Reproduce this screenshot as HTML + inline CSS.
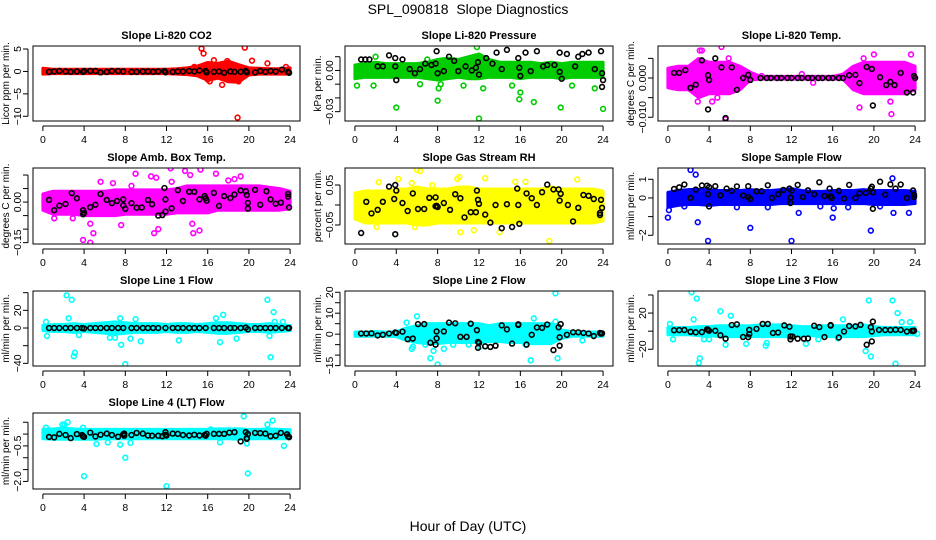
<!DOCTYPE html>
<html><head><meta charset="utf-8"><style>
body{margin:0;background:#fff;}
svg{display:block;font-family:"Liberation Sans",sans-serif;}
</style></head><body>
<svg id="chart" width="936" height="540" viewBox="0 0 936 540">
<text x="468" y="14" text-anchor="middle" font-size="14">SPL_090818&#160; Slope Diagnostics</text>
<text x="468" y="531" text-anchor="middle" font-size="14">Hour of Day (UTC)</text>
</svg>
<script>
const bandHours=[0,1,2,3,4,5,6,7,8,9,10,11,12,13,14,15,16,17,18,19,20,21,22,23,24];
const xTicks=[0,4,8,12,16,20,24];

// Panel 1 CO2
const p1Lo=[-0.6,-0.5,-0.5,-0.5,-0.5,-0.5,-0.5,-0.5,-0.5,-0.5,-0.5,-0.5,-0.5,-0.6,-0.7,-1,-2,-1.5,-2.3,-2.4,-0.8,-0.6,-0.6,-0.6,-0.6];
const p1Hi=[0.7,0.5,0.5,0.5,0.5,0.5,0.5,0.5,0.5,0.5,0.5,0.5,0.5,0.6,0.8,1.2,2,1.8,2.3,1.5,0.8,0.7,0.6,0.6,0.8];
const p1Out=[[15.4,5.1],[15.6,4],[16.2,-2.2],[16.6,2.5],[17.4,-3],[17.9,2.3],[18.9,-10.3],[19.6,5.3],[20.3,2.4],[21.8,1.8],[16,-1.8],[18,-1.8],[19,-2.2],[14.7,1],[23.6,1]];
const p1Black=[[0.6,-0.1],[1.1,0],[1.6,0.1],[2.2,0],[2.7,-0.1],[3.3,0],[3.9,-0.1],[4,0.1],[4.6,0.1],[5.1,0.1],[5.6,-0.2],[6.2,-0.1],[6.7,0.1],[7.3,0.1],[7.8,0],[8.6,-0.1],[9.1,-0.1],[9.7,0],[10.2,0],[10.7,-0.1],[11.2,0],[11.8,0.1],[11.9,-0.2],[12.6,-0.1],[13.1,0],[13.6,0],[14.2,0.1],[14.7,0],[15.2,0.2],[15.8,0.1],[15.9,-0.2],[16.6,-0.1],[17.1,0],[17.6,-0.3],[18.2,0],[18.6,-0.1],[19.2,-0.1],[19.7,0.1],[19.8,-0.2],[20.6,-0.2],[21.1,0.1],[21.6,-0.1],[22.1,0.1],[22.6,0],[23.2,0.4],[23.8,-0.1],[23.9,-0.3]];

// Panel 2 Pressure
const p2Lo=[-0.006,-0.005,-0.005,-0.005,-0.005,-0.005,-0.005,-0.006,-0.007,-0.006,-0.005,-0.006,-0.006,-0.005,-0.005,-0.005,-0.006,-0.005,-0.005,-0.005,-0.006,-0.005,-0.005,-0.005,-0.005];
const p2Hi=[0.004,0.005,0.006,0.005,0.005,0.005,0.005,0.006,0.008,0.009,0.008,0.01,0.012,0.008,0.006,0.006,0.006,0.006,0.005,0.006,0.005,0.006,0.006,0.006,0.006];
const p2Out=[[0.2,-0.011],[1.8,-0.011],[4,-0.027],[8,-0.022],[8.1,-0.013],[10.5,-0.011],[12,-0.035],[12.4,-0.013],[15.9,-0.021],[16,-0.016],[17.3,-0.023],[19.9,-0.027],[24,-0.028],[11.8,0.017],[2,0.01],[7,0.008],[15.2,-0.011],[21,-0.011],[23.2,-0.013],[6.3,-0.01],[8.3,-0.01]];
const p2Black=[[0.6,0.008],[1,0.008],[1.4,0.008],[2.2,0.003],[2.7,0.003],[3.3,0.011],[3.9,0.009],[3.9,0.003],[4,-0.007],[4.6,0.008],[5.3,0.001],[5.8,-0.002],[6.3,0.001],[6.8,0.005],[7.4,0.004],[7.8,0.005],[7.9,0.014],[8,-0.002],[8.6,-0.0005],[9.1,0.01],[9.6,0.007],[10,-0.0005],[10.7,0.003],[11.3,0],[11.7,0.002],[11.9,0.006],[12,-0.003],[12.7,0.009],[13.3,0.005],[13.7,0.013],[14.2,0.001],[14.7,0.015],[15.8,0.009],[15.9,0.002],[16,-0.004],[16.5,0.013],[17,-0.0005],[17.6,0.014],[18.2,0.003],[18.6,0.004],[19.3,0.004],[19.8,0.013],[19.8,-0.001],[20,-0.006],[20.5,0.012],[21.3,0.003],[21.6,0.01],[22,0.012],[22.6,0.013],[23.2,0.001],[23.8,0.014],[23.9,-0.002],[23.9,-0.012],[24,-0.007]];

// Panel 3 Li-820 Temp
const p3Lo=[-0.0025,-0.003,-0.003,-0.005,-0.004,-0.004,-0.004,-0.003,-0.0005,-0.0003,-0.0003,-0.0003,-0.0003,-0.0003,-0.0003,-0.0003,-0.0003,-0.0003,-0.003,-0.004,-0.004,-0.004,-0.004,-0.004,-0.003];
const p3Hi=[0.0025,0.003,0.003,0.005,0.004,0.004,0.004,0.003,0.0015,0.0004,0.0004,0.0004,0.0004,0.0004,0.0004,0.0004,0.0004,0.001,0.003,0.004,0.004,0.004,0.004,0.004,0.003];
const p3Out=[[3.3,0.007],[5.2,0.0079],[5.6,-0.0105],[4.3,-0.006],[4.8,-0.005],[2.9,-0.006],[18.6,-0.0075],[21.7,-0.0092],[21.6,-0.006],[20,0.006],[23.6,0.006],[19,0.005],[13,0.001],[14.1,-0.0012],[9.1,0.0005],[3.1,0.007],[5.9,0.005]];
const p3Black=[[0.6,0.0013],[1.1,0.0013],[1.7,0.002],[2.2,-0.0025],[2.7,-0.0017],[3.3,0.0045],[3.9,-0.008],[3.9,0.0007],[4,-0.0005],[4.6,0.005],[5.2,0.0027],[5.6,-0.0102],[6.2,0.0027],[6.7,-0.003],[7.3,0],[7.8,0.0008],[8,-0.0005],[9,0],[9.6,0],[10,0],[10.6,0],[11,0],[11.6,0],[12,0],[12.6,0],[13,0],[13.6,0],[14,0],[14.6,0],[15,0],[15.6,0],[16,0],[16.6,0],[17,0],[17.6,0.0007],[18.2,0.0008],[18.6,-0.0013],[19.3,0.0028],[19.8,0.0023],[19.9,-0.007],[20.6,0.0002],[21.2,-0.0018],[21.6,-0.001],[22,-0.0018],[22.6,0.0013],[23.2,-0.0037],[23.8,-0.0037],[23.9,0.0005],[24,0]];

// Panel 4 Amb Box Temp
const p4Lo=[-0.03,-0.045,-0.045,-0.045,-0.05,-0.05,-0.05,-0.05,-0.045,-0.045,-0.045,-0.045,-0.045,-0.04,-0.04,-0.04,-0.04,-0.03,-0.03,-0.03,-0.03,-0.03,-0.03,-0.03,-0.025];
const p4Hi=[0.03,0.04,0.04,0.04,0.04,0.04,0.04,0.045,0.045,0.045,0.045,0.045,0.045,0.05,0.06,0.06,0.06,0.06,0.06,0.06,0.06,0.06,0.055,0.05,0.04];
const p4Out=[[3.9,-0.14],[4.6,-0.15],[4.9,-0.115],[4.6,-0.08],[5.6,0.075],[6.8,0.07],[7.6,-0.085],[9,0.105],[10.8,-0.115],[11.2,-0.1],[10.5,0.095],[12.4,0.125],[12.5,0.075],[13.8,0.115],[14.3,0.1],[14.5,-0.08],[14.6,-0.115],[15.3,0.12],[15.2,-0.105],[16.8,0.105],[18.6,0.085],[19.2,0.095],[11,0.09],[18,0.08],[1.1,-0.06],[2.9,-0.06],[8.6,0.06]];
const p4Black=[[0.6,0.008],[1.1,-0.03],[1.6,-0.013],[2.2,-0.007],[2.8,0.033],[3.3,0.014],[3.9,-0.03],[3.9,-0.045],[4,-0.04],[4.6,-0.019],[5.1,-0.01],[5.6,0.03],[6.2,0.008],[6.7,-0.004],[7.2,0.004],[7.8,0.01],[7.8,-0.012],[8,-0.025],[8.6,-0.004],[9.1,-0.021],[9.6,-0.02],[10.2,0.008],[10.6,-0.008],[11.2,-0.05],[11.6,-0.048],[11.8,0.052],[11.9,-0.035],[11.9,0.01],[12.5,-0.023],[13.1,0.044],[13.6,0.004],[14.2,0.038],[14.7,0.038],[15.2,0.01],[15.7,0.022],[15.8,0.014],[15.9,0.005],[16.6,0.034],[17.1,-0.014],[17.6,0.022],[18.2,0.015],[18.6,0.028],[19.2,0.043],[19.7,0.04],[19.8,0.026],[19.9,-0.024],[19.9,-0.003],[20.6,0.045],[21.1,-0.01],[21.7,0.04],[22.1,0.01],[22.6,-0.006],[23.1,-0.002],[23.8,0.03],[23.8,0.02],[23.9,-0.02]];

// Panel 5 Gas Stream RH
const p5Lo=[-0.035,-0.045,-0.045,-0.045,-0.045,-0.045,-0.05,-0.05,-0.045,-0.045,-0.045,-0.045,-0.045,-0.045,-0.045,-0.045,-0.045,-0.045,-0.045,-0.045,-0.045,-0.045,-0.045,-0.045,-0.04];
const p5Hi=[0.03,0.035,0.035,0.035,0.04,0.04,0.045,0.04,0.04,0.04,0.045,0.045,0.04,0.04,0.04,0.04,0.04,0.04,0.04,0.045,0.04,0.04,0.04,0.04,0.035];
const p5Out=[[6,0.088],[6.3,0.085],[10.1,0.07],[12.6,0.067],[5.5,0.055],[4.2,0.065],[18.8,-0.09],[10.2,-0.068],[14,-0.068],[11.5,-0.063],[5.8,-0.055],[21.5,0.064],[9.9,0.065],[7.5,0.05],[2.1,-0.055],[2.3,0.057],[15.5,0.058],[16.5,0.058]];
const p5Black=[[0.6,-0.07],[1.1,0.008],[1.6,-0.021],[2.2,-0.012],[2.7,0.008],[3.3,0.046],[3.8,0.015],[3.9,0.05],[3.9,-0.073],[4,0.036],[4.6,0.005],[5.1,-0.015],[5.6,0.029],[6.1,-0.01],[6.7,-0.01],[7.2,0.018],[7.8,0.019],[7.8,-0.003],[7.9,-0.002],[8,-0.005],[8.6,0.005],[9.2,-0.012],[9.7,0.027],[10.2,0.017],[10.6,-0.031],[11.2,-0.018],[11.7,-0.018],[11.8,0.036],[11.9,0.013],[12,0.003],[12.6,-0.024],[13.1,-0.044],[13.6,0],[14.2,-0.058],[14.7,0.002],[15.2,-0.055],[15.7,0.041],[15.8,0],[15.9,-0.047],[16.6,0.029],[17.1,0.017],[17.6,0],[18.1,0.032],[18.6,0.051],[19.2,0.039],[19.7,0.039],[19.8,0.011],[19.9,0.028],[20.6,0],[21.1,-0.041],[21.6,-0.007],[22.1,0.025],[22.6,0.023],[23.1,0.015],[23.7,-0.025],[23.7,-0.02],[23.8,0.013],[23.9,-0.007]];

// Panel 6 Sample Flow
const p6Lo=[-0.5,-0.4,-0.35,-0.35,-0.4,-0.35,-0.35,-0.35,-0.35,-0.35,-0.35,-0.3,-0.3,-0.3,-0.3,-0.3,-0.3,-0.3,-0.3,-0.3,-0.35,-0.35,-0.35,-0.35,-0.3];
const p6Hi=[0.3,0.4,0.45,0.45,0.45,0.4,0.4,0.4,0.45,0.4,0.4,0.45,0.5,0.4,0.35,0.35,0.4,0.4,0.4,0.45,0.4,0.4,0.4,0.4,0.35];
const p6Out=[[0,-1.05],[0.1,-0.65],[2.2,1.5],[2.7,1.25],[2.9,-1.3],[3.9,-2.3],[8,-1.6],[12,-2.3],[12.7,-0.8],[16,-1.05],[19.7,-1.75],[21.8,1.05],[21.9,-0.8],[23.4,-0.8],[1.6,-0.45],[6.7,-0.5],[9.7,-0.5],[14.8,-0.45],[16.1,-0.55],[17.5,-0.5],[20.6,-0.45]];
const p6Black=[[0.6,0.48],[1.1,0.57],[1.6,0.72],[2.2,0],[2.7,0.45],[3.3,0.67],[3.8,0.66],[3.9,0.2],[4,-0.45],[4,0.58],[4.6,0.63],[5.1,0.14],[5.7,0.5],[6.2,0.38],[6.7,0.62],[7.3,0.13],[7.8,0.63],[7.8,0.05],[8,-0.05],[8.6,0.36],[9.1,0.36],[9.7,0.68],[10.1,0],[10.7,0.2],[11.2,0.43],[11.8,0.5],[11.9,0.02],[11.9,-0.27],[12,0.4],[12.6,0.7],[13.1,0.05],[13.6,0.41],[14.2,0.2],[14.7,0.84],[15.2,0.1],[15.7,0.5],[15.8,0.09],[15.9,0],[16.6,0.38],[17.1,-0.03],[17.6,0.7],[18.2,0],[18.6,0.25],[19.2,0.27],[19.7,0.5],[19.8,0.6],[19.9,-0.58],[19.9,0.3],[20.6,0.87],[21.1,0.18],[21.6,0.73],[22.1,0.5],[22.6,0.72],[23.2,0],[23.8,0.4],[23.9,0.05],[23.9,0.17]];

// Panel 7 Line 1 Flow
const p7Lo=[-3,-4,-4,-5,-4,-5,-6,-7,-6,-5,-5,-5,-4,-5,-5,-4,-5,-6,-6,-5,-4,-4,-5,-4,-3];
const p7Hi=[3,4,4,5,4,5,6,7,6,5,5,5,4,5,5,4,5,6,6,5,4,4,5,4,3];
const p7Out=[[2.3,37],[2.8,32],[2.5,11],[3,-32],[3.1,-28],[7.6,-19],[8,-41],[9.5,-15],[13.2,-14],[17.2,-16],[17.5,15],[18.8,-12],[21.8,32],[22.1,-33],[22.4,18],[22,-9],[6.5,-11],[7,-11],[8.5,-12],[0.4,-9],[3.5,-8],[0.3,7],[7.5,11],[9,10],[16.8,11],[22.5,7],[23.3,7]];
const p7Black=[[0.6,0],[1.1,0],[1.6,0],[2.2,0],[2.7,0],[3.3,0],[3.8,0],[4,-0.5],[4.6,0],[5.1,0],[5.6,0],[6.2,0],[6.7,0],[7.3,0],[7.8,0],[8.6,0],[9.1,0],[9.7,0],[10.2,0],[10.7,0],[11.2,0],[11.9,0],[12.6,0],[13.1,0],[13.6,0],[14.2,0],[14.7,0],[15.2,0],[15.8,0],[16.6,0],[17.1,0],[17.6,0],[18.2,0],[18.6,0],[19.2,0],[19.7,0.5],[19.9,-1.5],[20.6,0],[21.1,0],[21.6,0],[22.1,0],[22.6,0],[23.2,0],[23.8,0],[23.9,0]];

// Panel 8 Line 2 Flow
const p8Lo=[-1,-1,-1,-1,-1.2,-3,-4,-4.5,-4.5,-4,-4,-4,-4,-3.5,-3.5,-4,-4,-4.5,-4.5,-4.5,-2,-1,-1,-1,-1];
const p8Hi=[1,1,1.2,1,1.2,3,4,5,5,5,5,5,5,4,5,5,5,5,5,5,2,1.2,1,1,1];
const p8Out=[[6,8.5],[17.3,7.5],[19.4,19.5],[19.4,6],[7.3,-11.5],[8,-14.5],[7.6,-8],[17,-12.5],[19.6,-11.5],[5.5,-7],[8.6,-7],[9.5,-5],[12.1,-6],[16.5,-5],[22,-3],[11,-5],[5,5.5],[5.6,-6],[6.8,-5]];
const p8Black=[[0.6,0.3],[1.1,0.3],[1.6,0.4],[2.2,-0.6],[2.7,-0.3],[3.3,0.3],[3.9,0.8],[4,0.6],[4.6,1.2],[5.1,-2.4],[5.6,-2.1],[6.1,4.8],[6.7,4.8],[7.3,-4.1],[7.8,-5],[7.9,1.3],[7.9,-2],[8.6,1.3],[9.1,5.5],[9.7,5.2],[10.2,-1.3],[10.8,-1.3],[11.2,5],[11.8,1.9],[11.9,-3.7],[11.9,-6.5],[12,-4.2],[12.6,-5.8],[13.1,-6.1],[13.6,-5.5],[14.2,4.2],[14.7,2.3],[15.2,-4.5],[15.8,4.7],[15.8,4.4],[16.6,-5],[17.1,-0.3],[17.6,3.2],[18.1,3],[18.6,4.6],[19.2,-7.6],[19.7,3.3],[19.8,-1.5],[19.8,-5.5],[19.9,4.8],[20.5,-0.3],[21.1,0.9],[21.6,0.9],[22.1,0.6],[22.6,0.3],[23.1,-0.9],[23.7,0.6],[23.8,0.2],[23.9,0.4]];

// Panel 9 Line 3 Flow
const p9Lo=[-4,-4,-4,-5,-5,-6,-6,-6,-6,-6,-6,-6,-6,-5,-5,-6,-6,-6,-6,-6,-5,-4,-4,-4,-4];
const p9Hi=[4,4,4,5,5,6,6,6,6,7,7,7,6,5,5,6,6,6,6,7,5,4,4,4,4];
const p9Out=[[2.3,43],[2.8,36],[3.1,-30],[3,-35],[5.1,22],[6.1,17],[2.5,13],[19.5,34],[19.7,-28],[19.2,-22],[21.8,34],[22.1,-36],[22.3,20],[17,13],[0.2,8],[3.5,-9],[4,-9],[5.6,-15],[7.6,-14],[9.6,-13],[9.5,-16],[13.4,-14],[14.6,-9],[22.7,10],[23.5,10],[24.2,-3],[0.5,-9],[16.5,-8]];
const p9Black=[[0.6,1],[1.1,1.2],[1.6,1.3],[2.2,-0.7],[2.7,-1.3],[3.3,-1],[3.8,2],[3.9,1.6],[4,0.5],[4.6,0.5],[5.1,-4.5],[5.6,-8.3],[6.2,6.8],[6.7,7.5],[7.3,-6.4],[7.8,-6.6],[7.9,1.5],[7.9,-3.3],[8.6,2.5],[9.2,8],[9.7,8],[10.2,-2],[10.7,-1.5],[11.3,6.4],[11.8,4.9],[11.9,-5.8],[11.9,-9],[12.1,-6],[12.6,-8.3],[13.2,-8.3],[13.6,-8],[14.2,6],[14.7,4.5],[15.2,-6.5],[15.8,6.7],[15.8,6.2],[16.6,-7],[17.1,-0.4],[17.6,5.7],[18.2,5.3],[18.7,7],[19.3,-15],[19.7,4.4],[19.8,-0.3],[19.8,-11.3],[19.9,10.6],[20.5,1.4],[21.1,1.3],[21.6,1.3],[22.1,1.6],[22.6,1.4],[23.2,-0.4],[23.7,0.3],[23.8,0.2],[23.9,0.6]];

// Panel 10 Line 4 (LT) Flow
const p10Lo=[-0.2,-0.22,-0.22,-0.22,-0.22,-0.22,-0.2,-0.2,-0.2,-0.2,-0.2,-0.2,-0.2,-0.2,-0.2,-0.2,-0.2,-0.2,-0.2,-0.22,-0.2,-0.2,-0.2,-0.2,-0.2];
const p10Hi=[0.2,0.22,0.25,0.22,0.2,0.2,0.2,0.2,0.2,0.2,0.2,0.2,0.2,0.2,0.2,0.2,0.2,0.22,0.22,0.22,0.2,0.2,0.22,0.2,0.18];
const p10Out=[[4,-1.78],[8,-1.0],[12,-2.2],[19.9,-1.66],[19.5,0.75],[22.3,0.57],[21.8,0.4],[1.9,0.4],[2.4,0.5],[5.2,-0.42],[6.3,-0.35],[7.5,-0.45],[8.5,-0.37],[23.4,-0.5],[0.3,0.27],[3.9,0.27],[17.2,-0.35],[16.3,0.2],[19.8,-0.4],[2.1,0.4]];
const p10Black=[[0.6,-0.12],[1.1,-0.14],[1.6,0.01],[2.2,-0.04],[2.7,-0.17],[3.3,0],[3.8,-0.04],[3.9,-0.1],[4,-0.12],[4.6,0.06],[5.1,-0.1],[5.6,-0.03],[6.2,0.02],[6.7,-0.04],[7.3,-0.11],[7.8,-0.01],[7.9,0.02],[7.9,-0.07],[8.6,-0.04],[9.1,0.05],[9.7,0.02],[10.2,-0.06],[10.6,-0.07],[11.2,-0.07],[11.6,-0.09],[11.9,0.08],[11.9,-0.03],[12,-0.06],[12.6,0.02],[13.1,0.01],[13.6,-0.04],[14.2,-0.06],[14.7,-0.03],[15.2,-0.06],[15.7,-0.04],[15.8,-0.07],[15.9,0.01],[16.6,0.01],[17.1,0.01],[17.6,0.01],[18.1,0.06],[18.6,0.08],[19.2,-0.31],[19.7,0.08],[19.8,-0.17],[19.8,-0.2],[19.9,0],[20.6,0.05],[21.1,0.04],[21.6,0.02],[22.1,-0.09],[22.6,-0.07],[23.1,0.05],[23.7,-0.01],[23.8,-0.1],[23.9,-0.13]];

// y-axis ticks & labels
const p1Ticks=[5,0,-5,-10], p1Labels=["5","0","\u22125","\u221210"];
const p2Ticks=[0.01,0,-0.01,-0.02,-0.03], p2Labels=["","0.00","","","\u22120.03"];
const p3Ticks=[0.005,0,-0.005,-0.01], p3Labels=["","0.000","","\u22120.010"];
const p4Ticks=[0.1,0.05,0,-0.05,-0.1,-0.15], p4Labels=["","","0.00","","","\u22120.15"];
const p5Ticks=[0.05,0,-0.05], p5Labels=["0.05","","\u22120.05"];
const p6Ticks=[1,0,-1,-2], p6Labels=["1","0","","\u22122"];
const p7Ticks=[40,20,0,-20,-40], p7Labels=["","20","0","","\u221240"];
const p8Ticks=[20,15,10,5,0,-5,-10,-15], p8Labels=["20","","10","","0","","","\u221215"];
const p9Ticks=[40,20,0,-20], p9Labels=["","20","","\u221220"];
const p10Ticks=[0.5,0,-0.5,-1,-1.5,-2], p10Labels=["","","\u22120.5","","","\u22122.0"];

const panels=[
 {id:"co2",title:"Slope Li-820 CO2",ylab:"Licor ppm per min.",col:"#ff0000",row:0,c:0,ymin:-11.05,ymax:5.67,lo:p1Lo,hi:p1Hi,out:p1Out,blk:p1Black,ticks:p1Ticks,labels:p1Labels},
 {id:"pressure",title:"Slope Li-820 Pressure",ylab:"kPa per min.",col:"#00cc00",row:0,c:1,ymin:-0.0368,ymax:0.0178,lo:p2Lo,hi:p2Hi,out:p2Out,blk:p2Black,ticks:p2Ticks,labels:p2Labels},
 {id:"li820-temp",title:"Slope Li-820 Temp.",ylab:"degrees C per min.",col:"#ff00ff",row:0,c:2,ymin:-0.01095,ymax:0.00815,lo:p3Lo,hi:p3Hi,out:p3Out,blk:p3Black,ticks:p3Ticks,labels:p3Labels},
 {id:"amb-box-temp",title:"Slope Amb. Box Temp.",ylab:"degrees C per min.",col:"#ff00ff",row:1,c:0,ymin:-0.155,ymax:0.126,lo:p4Lo,hi:p4Hi,out:p4Out,blk:p4Black,ticks:p4Ticks,labels:p4Labels},
 {id:"gas-stream-rh",title:"Slope Gas Stream RH",ylab:"percent per min.",col:"#ffff00",row:1,c:1,ymin:-0.0975,ymax:0.0925,lo:p5Lo,hi:p5Hi,out:p5Out,blk:p5Black,ticks:p5Ticks,labels:p5Labels},
 {id:"sample-flow",title:"Slope Sample Flow",ylab:"ml/min per min.",col:"#0000ff",row:1,c:2,ymin:-2.466,ymax:1.605,lo:p6Lo,hi:p6Hi,out:p6Out,blk:p6Black,ticks:p6Ticks,labels:p6Labels},
 {id:"line1-flow",title:"Slope Line 1 Flow",ylab:"ml/min per min.",col:"#00ffff",row:2,c:0,ymin:-43,ymax:41.9,lo:p7Lo,hi:p7Hi,out:p7Out,blk:p7Black,ticks:p7Ticks,labels:p7Labels},
 {id:"line2-flow",title:"Slope Line 2 Flow",ylab:"ml/min per min.",col:"#00ffff",row:2,c:1,ymin:-15.2,ymax:20.6,lo:p8Lo,hi:p8Hi,out:p8Out,blk:p8Black,ticks:p8Ticks,labels:p8Labels},
 {id:"line3-flow",title:"Slope Line 3 Flow",ylab:"ml/min per min.",col:"#00ffff",row:2,c:2,ymin:-38.5,ymax:44.4,lo:p9Lo,hi:p9Hi,out:p9Out,blk:p9Black,ticks:p9Ticks,labels:p9Labels},
 {id:"line4-flow",title:"Slope Line 4 (LT) Flow",ylab:"ml/min per min.",col:"#00ffff",row:3,c:0,ymin:-2.32,ymax:0.89,lo:p10Lo,hi:p10Hi,out:p10Out,blk:p10Black,ticks:p10Ticks,labels:p10Labels}
];

const colL=[33,345,658], colR=[300,613,925];
const rowT=[46,168,291,413], rowB=[121,244,366,489];
const NS="http://www.w3.org/2000/svg";
const svg=document.getElementById("chart");
function mk(tag,attrs,parent){const e=document.createElementNS(NS,tag);for(const k in attrs)e.setAttribute(k,attrs[k]);parent.appendChild(e);return e;}

panels.forEach(p=>{
 const L=colL[p.c],R=colR[p.c],T=rowT[p.row],B=rowB[p.row];
 const xs=h=>L+(h+0.96)/25.92*(R-L);
 const ys=v=>B-(v-p.ymin)/(p.ymax-p.ymin)*(B-T);
 const g=mk("g",{},svg);
 
 
 const clipId="clip-"+p.id;
 const cp=mk("clipPath",{id:clipId},g);
 mk("rect",{x:L,y:T,width:R-L,height:B-T},cp);
 const plot=mk("g",{"clip-path":"url(#"+clipId+")"},g);
 let pts=bandHours.map((h,i)=>xs(h)+","+ys(p.hi[i]));
 pts=pts.concat(bandHours.slice().reverse().map((h,j)=>xs(h)+","+ys(p.lo[bandHours.length-1-j])));
 const band=mk("polygon",{points:pts.join(" "),fill:p.col,stroke:p.col,"stroke-width":3,"stroke-linejoin":"round"},plot);
 
 
 p.out.forEach(d=>{
  const c=mk("circle",{cx:xs(d[0]),cy:ys(d[1]),r:2.4,fill:"none",stroke:p.col,"stroke-width":1.6},plot);
  
  
 });
 p.blk.forEach(d=>{
  const c=mk("circle",{cx:xs(d[0]),cy:ys(d[1]),r:2.4,fill:"none",stroke:"#000","stroke-width":1.6},plot);
  
  
 });
 const box=mk("rect",{x:L,y:T,width:R-L,height:B-T,fill:"none",stroke:"#000","stroke-width":1},g);
 
 
 const t=mk("text",{x:(L+R)/2,y:T-7,"text-anchor":"middle","font-size":11,"font-weight":"bold"},g);
 t.textContent=p.title;
 
 
 const yl=mk("text",{x:0,y:0,"text-anchor":"middle","font-size":10,transform:"translate("+(L-24)+","+((T+B)/2)+") rotate(-90)"},g);
 yl.textContent=p.ylab;
 
 
 mk("line",{x1:xs(0),x2:xs(24),y1:B+5,y2:B+5,stroke:"#000"},g);
 xTicks.forEach(h=>{
  mk("line",{x1:xs(h),x2:xs(h),y1:B+5,y2:B+10,stroke:"#000"},g);
  const tl=mk("text",{x:xs(h),y:B+22,"text-anchor":"middle","font-size":10.5},g);
  tl.textContent=String(h);
  
  
 });
 const yt=p.ticks;
 mk("line",{x1:L-5,x2:L-5,y1:ys(yt[0]),y2:ys(yt[yt.length-1]),stroke:"#000"},g);
 yt.forEach((v,i)=>{
  mk("line",{x1:L-10,x2:L-5,y1:ys(v),y2:ys(v),stroke:"#000"},g);
  if(p.labels[i]){
   const tl=mk("text",{x:0,y:0,"text-anchor":"middle","font-size":10.5,transform:"translate("+(L-12)+","+ys(v)+") rotate(-90)"},g);
   tl.textContent=p.labels[i];
   
   
  }
 });
});
</script>
</body></html>
